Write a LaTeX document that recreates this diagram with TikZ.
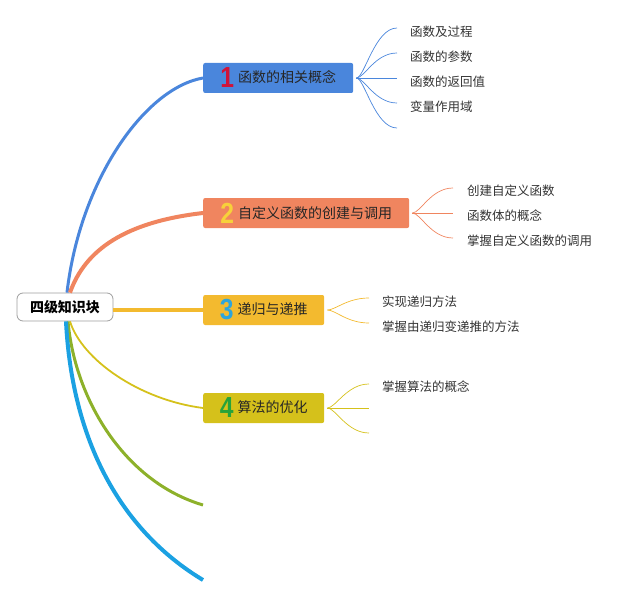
\documentclass[tikz,border=0pt]{standalone}
\usepackage{fontspec}
\setmainfont{Noto Sans CJK SC}
\newfontfamily\numfont{Liberation Sans}
\definecolor{cblue}{HTML}{4A86DC}
\definecolor{corange}{HTML}{F0855F}
\definecolor{cyellow}{HTML}{F3BA2F}
\definecolor{colive}{HTML}{D5C11B}
\definecolor{cgreen}{HTML}{8DB12A}
\definecolor{ccyan}{HTML}{1BA1E2}
\definecolor{nred}{HTML}{D0133A}
\definecolor{nyellow}{HTML}{F7D13A}
\definecolor{ncyan}{HTML}{2EA5DB}
\definecolor{ngreen}{HTML}{27A33A}
\newcommand{\bignum}[2]{\raisebox{-5pt}{\scalebox{0.85}[1]{\numfont\bfseries\fontsize{29}{29}\selectfont\color{#1}#2}}\hspace{4pt}}

\begin{document}
\begin{tikzpicture}[x=1pt, y=-1pt,
	rootbox/.style={draw=black!38, line width=0.8pt, fill=white, rounded corners=6pt, minimum width=96pt, minimum height=28pt, font=\bfseries\fontsize{14}{16}\selectfont},
	topic/.style={anchor=west, rounded corners=2pt, minimum height=30pt, inner ysep=0pt, text=black!85, font=\fontsize{14}{16}\selectfont},
	sub/.style={anchor=west, inner sep=0pt, text=black!80, font=\fontsize{12.5}{14}\selectfont},
	fan/.style={line width=0.7pt}]
	\useasboundingbox (0,0) rectangle (640,599);
	% main topics
	\node[rootbox] (root) at (65,307) {四级知识块};
	\node[topic, fill=cblue, minimum width=150pt] (t1) at (203,78) {\bignum{nred}{1}函数的相关概念};
	\node[topic, fill=corange, minimum width=206pt] (t2) at (203,213) {\bignum{nyellow}{2}自定义函数的创建与调用};
	\node[topic, fill=cyellow, minimum width=121pt] (t3) at (203,310) {\bignum{ncyan}{3}递归与递推};
	\node[topic, fill=colive, minimum width=121pt] (t4) at (203,408) {\bignum{ngreen}{4}算法的优化};
	\coordinate (g5) at (203,505);
	\coordinate (g6) at (203,580);
	\draw[cblue, line width=3pt] ([xshift=2pt]root.north) .. controls (80,180) and (145,88) .. (t1.west);
	\draw[corange, line width=4pt] ([xshift=5pt]root.north) .. controls (85,250) and (125,222) .. (t2.west);
	\draw[cyellow, line width=4pt] (t3.west -| root.east) -- (t3.west);
	\draw[colive, line width=1.8pt] ([xshift=5pt]root.south) .. controls (82,360) and (140,400) .. (t4.west);
	\draw[cgreen, line width=3pt] ([xshift=3pt]root.south) .. controls (75,400) and (125,482) .. (g5);
	\draw[ccyan, line width=4pt] ([xshift=1pt]root.south) .. controls (72,440) and (120,530) .. (g6);
	% subtopics
	\coordinate (e11) at (397,28);
	\coordinate (e12) at (397,53);
	\coordinate (e13) at (397,78);
	\coordinate (e14) at (397,103);
	\coordinate (e15) at (397,128);
	\node[sub] (s11) at (410,32) {函数及过程};
	\node[sub] (s12) at (410,57) {函数的参数};
	\node[sub] (s13) at (410,82) {函数的返回值};
	\node[sub] (s14) at (410,107) {变量作用域};
	\draw[fan, cblue] ([xshift=3pt]t1.east) .. controls +(8,0) and +(-22,0) .. (e11);
	\draw[fan, cblue] ([xshift=3pt]t1.east) .. controls +(8,0) and +(-22,0) .. (e12);
	\draw[fan, cblue] ([xshift=3pt]t1.east) -- (e13);
	\draw[fan, cblue] ([xshift=3pt]t1.east) .. controls +(8,0) and +(-22,0) .. (e14);
	\draw[fan, cblue] ([xshift=3pt]t1.east) .. controls +(8,0) and +(-22,0) .. (e15);
	\coordinate (e21) at (453,188);
	\coordinate (e22) at (453,213);
	\coordinate (e23) at (453,238);
	\node[sub] (s21) at (467,191) {创建自定义函数};
	\node[sub] (s22) at (467,216) {函数体的概念};
	\node[sub] (s23) at (467,241) {掌握自定义函数的调用};
	\draw[fan, corange] ([xshift=3pt]t2.east) .. controls +(8,0) and +(-22,0) .. (e21);
	\draw[fan, corange] ([xshift=3pt]t2.east) -- (e22);
	\draw[fan, corange] ([xshift=3pt]t2.east) .. controls +(8,0) and +(-22,0) .. (e23);
	\coordinate (e31) at (369,298);
	\coordinate (e32) at (369,323);
	\node[sub] (s31) at (382,302) {实现递归方法};
	\node[sub] (s32) at (382,327) {掌握由递归变递推的方法};
	\draw[fan, cyellow] ([xshift=3pt]t3.east) .. controls +(8,0) and +(-22,0) .. (e31);
	\draw[fan, cyellow] ([xshift=3pt]t3.east) .. controls +(8,0) and +(-22,0) .. (e32);
	\coordinate (e41) at (369,384);
	\coordinate (e42) at (369,408);
	\coordinate (e43) at (369,433);
	\node[sub] (s41) at (382,387) {掌握算法的概念};
	\draw[fan, colive] ([xshift=3pt]t4.east) .. controls +(8,0) and +(-22,0) .. (e41);
	\draw[fan, colive] ([xshift=3pt]t4.east) -- (e42);
	\draw[fan, colive] ([xshift=3pt]t4.east) .. controls +(8,0) and +(-22,0) .. (e43);
\end{tikzpicture}
\end{document}
